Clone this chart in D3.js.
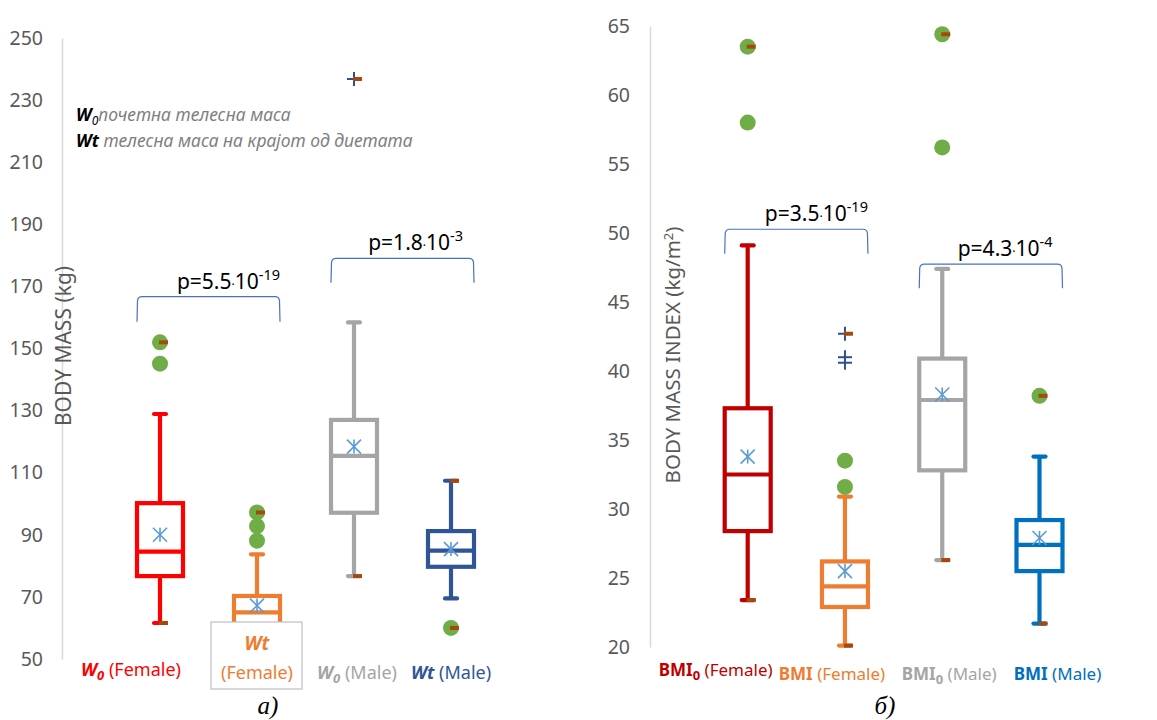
<!DOCTYPE html>
<html>
<head>
<meta charset="utf-8">
<script src="https://cdn.jsdelivr.net/npm/d3@7"></script>
<style>
  body { margin: 0; background: #fff; }
  svg { font-family: "Noto Sans", sans-serif; }
</style>
</head>
<body>
<svg id="chart" width="1157" height="720"></svg>
<script>
// ---- panel a) body mass ----
const massCats = ["W0 (Female)", "Wt (Female)", "W0 (Male)", "Wt (Male)"];
const massMin = [61.6, 52, 76.7, 69.5];
const massQ1 = [76.7, 60, 97.1, 79.7];
const massMedian = [84.6, 65, 115.4, 84.9];
const massQ3 = [100.2, 70.3, 127, 91.2];
const massMax = [128.9, 83.7, 158.4, 107.4];
const massMean = [90, 67.2, 118.4, 85.4];
const massOutliers = [[152, 145.1], [97.2, 92.8, 88.1], [], [60]];
const massFarOutliers = [[], [], [236.8], []];
const massTicks = [50, 70, 90, 110, 130, 150, 170, 190, 210, 230, 250];
const massPValues = [["5.5", "-19"], ["1.8", "-3"]];

// ---- panel б) body mass index ----
const bmiCats = ["BMI0 (Female)", "BMI (Female)", "BMI0 (Male)", "BMI (Male)"];
const bmiMin = [23.4, 20.1, 26.3, 21.7];
const bmiQ1 = [28.4, 22.9, 32.8, 25.5];
const bmiMedian = [32.5, 24.4, 37.9, 27.4];
const bmiQ3 = [37.3, 26.2, 40.9, 29.2];
const bmiMax = [49.1, 30.9, 47.4, 33.8];
const bmiMean = [33.8, 25.5, 38.3, 27.9];
const bmiOutliers = [[63.5, 58.0], [33.5, 31.6], [64.4, 56.2], [38.2]];
const bmiFarOutliers = [[], [42.7, 41.0, 40.6], [], []];
const bmiTicks = [20, 25, 30, 35, 40, 45, 50, 55, 60, 65];
const bmiPValues = [["3.5", "-19"], ["4.3", "-4"]];

const svg = d3.select("#chart");
const meanColor = "#5B9BD5";
const dotColor = "#70AD47";
const extColor = "#A5490F";
const crossColor = "#2F4F8F";
const textGrey = "#595959";

function drawPanel(cfg) {
  const g = svg.append("g");
  const x = d3.scalePoint().domain(cfg.cats).range(cfg.xRange);
  const y = d3.scaleLinear().domain(cfg.yDomain).range(cfg.yRange);

  const axis = g.append("g")
    .attr("transform", `translate(${cfg.axisX},0)`)
    .call(d3.axisLeft(y).tickValues(cfg.ticks).tickSize(0).tickSizeOuter(0).tickPadding(cfg.axisX - cfg.labelRight));
  axis.select(".domain").attr("stroke", "#D9D9D9").attr("stroke-width", 1.5);
  axis.selectAll(".tick text").attr("fill", textGrey).style("font-size", "19.5px")
    .style("font-family", "Noto Sans");

  g.append("text")
    .attr("transform", `translate(${cfg.titleX},${cfg.titleY}) rotate(-90)`)
    .attr("text-anchor", "middle").attr("dy", "0.35em")
    .attr("fill", textGrey).style("font-size", cfg.titleSize + "px")
    .html(cfg.title);

  const bw = 46, cap = 12;
  cfg.cats.forEach((c, i) => {
    const cx = x(c), col = cfg.colors[i];
    const bg = g.append("g").attr("stroke", col).attr("stroke-width", 4.2).attr("fill", "none");
    // whiskers
    bg.append("line").attr("x1", cx).attr("x2", cx).attr("y1", y(cfg.min[i])).attr("y2", y(cfg.q1[i]));
    bg.append("line").attr("x1", cx).attr("x2", cx).attr("y1", y(cfg.q3[i])).attr("y2", y(cfg.max[i]));
    [cfg.min[i], cfg.max[i]].forEach(v => {
      bg.append("line").attr("x1", cx - cap / 2).attr("x2", cx + cap / 2)
        .attr("y1", y(v)).attr("y2", y(v)).attr("stroke-linecap", "round");
    });
    // box
    bg.append("rect").attr("x", cx - bw / 2).attr("width", bw)
      .attr("y", y(cfg.q3[i])).attr("height", y(cfg.q1[i]) - y(cfg.q3[i]))
      .attr("fill", "#fff");
    bg.append("line").attr("x1", cx - bw / 2).attr("x2", cx + bw / 2)
      .attr("y1", y(cfg.median[i])).attr("y2", y(cfg.median[i]));
    // mean asterisk
    const my = y(cfg.mean[i]), s = 7;
    const mg = g.append("g").attr("stroke", meanColor).attr("stroke-width", 1.6);
    mg.append("line").attr("x1", cx - s).attr("x2", cx + s).attr("y1", my - s).attr("y2", my + s);
    mg.append("line").attr("x1", cx - s).attr("x2", cx + s).attr("y1", my + s).attr("y2", my - s);
    mg.append("line").attr("x1", cx).attr("x2", cx).attr("y1", my - s).attr("y2", my + s);
    // outliers
    g.selectAll(null).data(cfg.outliers[i]).enter().append("circle")
      .attr("cx", cx).attr("cy", d => y(d)).attr("r", 8).attr("fill", dotColor);
    const cg = g.append("g").attr("stroke", crossColor).attr("stroke-width", 2);
    cfg.far[i].forEach(d => {
      cg.append("line").attr("x1", cx - 7).attr("x2", cx + 7).attr("y1", y(d)).attr("y2", y(d));
      cg.append("line").attr("x1", cx).attr("x2", cx).attr("y1", y(d) - 7).attr("y2", y(d) + 7);
    });
    // extreme markers (overall min / max)
    const all = [cfg.min[i], cfg.max[i]].concat(cfg.outliers[i], cfg.far[i]);
    d3.extent(all).forEach(v => {
      g.append("rect").attr("x", cx - 1).attr("y", y(v) - 2).attr("width", 9).attr("height", 4)
        .attr("fill", extColor);
    });
  });

  // significance brackets
  cfg.brackets.forEach((b, k) => {
    const x1 = x(cfg.cats[b.pair[0]]) - 23, x2 = x(cfg.cats[b.pair[1]]) + 23;
    const yt = y(b.top), yb = y(b.bottom), r = 4;
    g.append("path")
      .attr("d", `M${x1},${yb} L${x1 + 0.5},${yt + r} Q${x1 + 1},${yt} ${x1 + r + 1},${yt} L${x2 - r - 1},${yt} Q${x2 - 1},${yt} ${x2 - 0.5},${yt + r} L${x2},${yb}`)
      .attr("fill", "none").attr("stroke", "#4472C4").attr("stroke-width", 1.2);
    const pv = cfg.pvals[k];
    const t = g.append("text").attr("x", x2 + b.textDx).attr("y", yt - 8)
      .attr("text-anchor", "end").attr("fill", "#000").style("font-size", "21px");
    t.append("tspan").text("p=" + pv[0]);
    t.append("tspan").style("font-size", "12px").text("·");
    t.append("tspan").text("10");
    t.append("tspan").attr("dy", -9).style("font-size", "14.5px").text(pv[1]);
  });

  // category labels
  cfg.cats.forEach((c, i) => {
    if (cfg.labelBox && cfg.labelBox.index === i) return;
    const lb = cfg.labelParts[i];
    const t = g.append("text").attr("x", x(c) + cfg.labelDx[i]).attr("y", cfg.labelY[i])
      .attr("text-anchor", "middle").attr("fill", cfg.colors[i]).style("font-size", cfg.labelSize + "px");
    t.append("tspan").style("font-weight", "bold").style("font-style", lb.italic ? "italic" : "normal").text(lb.head);
    if (lb.sub) t.append("tspan").attr("dy", 4).style("font-weight", "bold")
      .style("font-style", lb.italic ? "italic" : "normal").style("font-size", "13px").text(lb.sub);
    t.append("tspan").attr("dy", lb.sub ? -4 : 0).text(" " + lb.tail);
  });
  if (cfg.labelBox) {
    const i = cfg.labelBox.index, cx = x(cfg.cats[i]), lb = cfg.labelParts[i];
    g.append("rect").attr("x", cx - 46).attr("y", 622).attr("width", 91).attr("height", 67)
      .attr("fill", "#fff").attr("stroke", "#BFBFBF").attr("stroke-width", 1.2);
    g.append("text").attr("x", cx).attr("y", 650).attr("text-anchor", "middle")
      .attr("fill", cfg.colors[i]).style("font-size", "19px").style("font-weight", "bold")
      .style("font-style", "italic").text(lb.head);
    g.append("text").attr("x", cx).attr("y", 679).attr("text-anchor", "middle")
      .attr("fill", cfg.colors[i]).style("font-size", "18px").text(lb.tail);
  }

  g.append("text").attr("x", cfg.captionX).attr("y", 714).attr("text-anchor", "middle")
    .style("font-family", "Liberation Serif").style("font-style", "italic").style("font-size", "25px")
    .text(cfg.caption);
  return {x, y, g};
}

drawPanel({
  cats: massCats, min: massMin, q1: massQ1, median: massMedian, q3: massQ3, max: massMax,
  mean: massMean, outliers: massOutliers, far: massFarOutliers, ticks: massTicks, pvals: massPValues,
  xRange: [160, 451], yDomain: [50, 250], yRange: [659, 38], axisX: 62, labelRight: 43,
  colors: ["#FF0000", "#ED7D31", "#A5A5A5", "#2F5597"],
  title: "BODY MASS (kg)", titleX: 64, titleY: 346, titleSize: 21,
  brackets: [{pair: [0, 1], top: 166.7, bottom: 158.6, textDx: 0},
             {pair: [2, 3], top: 179, bottom: 171.2, textDx: -11}],
  labelParts: [{head: "W", sub: "0", tail: "(Female)", italic: true},
               {head: "Wt", tail: "(Female)", italic: true},
               {head: "W", sub: "0", tail: "(Male)", italic: true},
               {head: "Wt", tail: "(Male)", italic: true}],
  labelDx: [-29, 0, 3, 0], labelY: [676, 679, 679, 679], labelSize: 18,
  labelBox: {index: 1},
  caption: "а)", captionX: 268
});

drawPanel({
  cats: bmiCats, min: bmiMin, q1: bmiQ1, median: bmiMedian, q3: bmiQ3, max: bmiMax,
  mean: bmiMean, outliers: bmiOutliers, far: bmiFarOutliers, ticks: bmiTicks, pvals: bmiPValues,
  xRange: [747.7, 1039.5], yDomain: [20, 65], yRange: [647, 26], axisX: 650, labelRight: 630,
  colors: ["#C00000", "#ED7D31", "#A5A5A5", "#0070C0"],
  title: "BODY MASS INDEX (kg/m<tspan dy='-7' style='font-size:13px'>2</tspan><tspan dy='7'>)</tspan>",
  titleX: 673, titleY: 355, titleSize: 20.5,
  brackets: [{pair: [0, 1], top: 50.27, bottom: 48.5, textDx: 0},
             {pair: [2, 3], top: 47.75, bottom: 46.0, textDx: -10}],
  labelParts: [{head: "BMI", sub: "0", tail: "(Female)"},
               {head: "BMI", tail: "(Female)"},
               {head: "BMI", sub: "0", tail: "(Male)"},
               {head: "BMI", tail: "(Male)"}],
  labelDx: [-32, -13, 7, 18], labelY: [676, 680, 680, 680], labelSize: 17,
  caption: "б)", captionX: 885
});

// legend note in panel a)
const note = svg.append("g").style("font-size", "17.5px").style("font-style", "italic");
const n1 = note.append("text").attr("x", 76).attr("y", 121);
n1.append("tspan").attr("fill", "#000").style("font-weight", "bold").text("W");
n1.append("tspan").attr("fill", "#000").attr("dy", 4).style("font-size", "12px").text("0");
n1.append("tspan").attr("fill", "#7F7F7F").attr("dy", -4).text("почетна телесна маса");
const n2 = note.append("text").attr("x", 76).attr("y", 147);
n2.append("tspan").attr("fill", "#000").style("font-weight", "bold").text("Wt ");
n2.append("tspan").attr("fill", "#7F7F7F").text("телесна маса на крајот од диетата");
</script>
</body>
</html>
